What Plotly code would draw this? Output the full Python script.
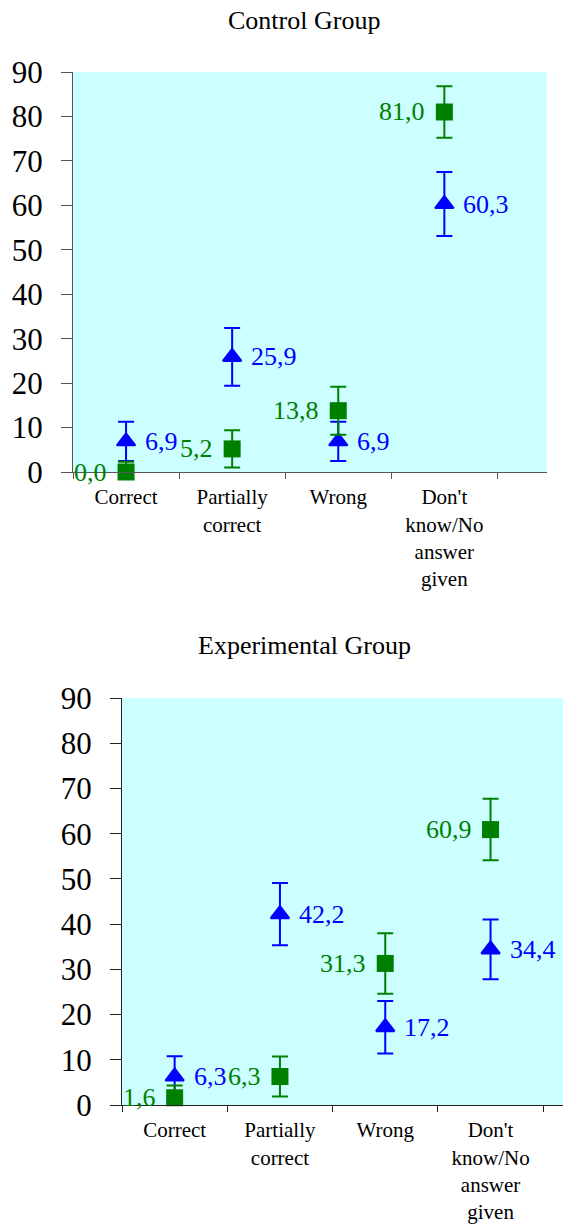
import plotly.graph_objects as go

categories = ["Correct", "Partially<br>correct", "Wrong", "Don't<br>know/No<br>answer<br>given"]

ctrl_square = [0.0, 5.2, 13.8, 81.0]
ctrl_square_err = [2.3, 4.2, 5.4, 5.8]
ctrl_triangle = [6.9, 25.9, 6.9, 60.3]
ctrl_triangle_err = [4.4, 6.5, 4.4, 7.2]

exp_square = [1.6, 6.3, 31.3, 60.9]
exp_square_err = [2.7, 4.4, 6.7, 6.8]
exp_triangle = [6.3, 42.2, 17.2, 34.4]
exp_triangle_err = [4.5, 6.9, 5.8, 6.6]

y_ticks = [0, 10, 20, 30, 40, 50, 60, 70, 80, 90]

W, H = 563, 1229
GREEN = "#008000"
BLUE = "#0000FF"
BG = "#CCFFFF"
FONT = "Liberation Serif"


def fmt(v):
    return f"{v:.1f}".replace(".", ",")


fig = go.Figure()
annotations = []


def add_group(xa, ya, sq, sq_err, tri, tri_err):
    fig.add_trace(go.Scatter(
        x=categories, y=tri, xaxis=xa, yaxis=ya, mode="markers",
        marker=dict(symbol="triangle-up", size=16, color=BLUE,
                    line=dict(color=BLUE, width=2)),
        error_y=dict(type="data", array=tri_err, color=BLUE, thickness=2, width=8),
        cliponaxis=False, showlegend=False))
    fig.add_trace(go.Scatter(
        x=categories, y=sq, xaxis=xa, yaxis=ya, mode="markers",
        marker=dict(symbol="square", size=17, color=GREEN),
        error_y=dict(type="data", array=sq_err, color=GREEN, thickness=2, width=8),
        cliponaxis=False, showlegend=False))
    for c, v in zip(categories, tri):
        annotations.append(dict(x=c, y=v, xref=xa, yref=ya, text=fmt(v),
                                showarrow=False, xanchor="left", yanchor="middle",
                                xshift=17, font=dict(family=FONT, size=26, color=BLUE)))
    for c, v in zip(categories, sq):
        annotations.append(dict(x=c, y=v, xref=xa, yref=ya, text=fmt(v),
                                showarrow=False, xanchor="right", yanchor="middle",
                                xshift=-17, font=dict(family=FONT, size=26, color=GREEN)))


add_group("x", "y", ctrl_square, ctrl_square_err, ctrl_triangle, ctrl_triangle_err)
add_group("x2", "y2", exp_square, exp_square_err, exp_triangle, exp_triangle_err)

n = len(categories)
boundaries = [i - 0.5 for i in range(n + 1)]


def px_x(p):
    return p / W


def px_y(p):
    return 1 - p / H


top_dom_x = [px_x(73), px_x(546.5)]
top_dom_y = [px_y(472), px_y(72)]
bot_dom_x = [px_x(122), 1.0]
bot_dom_y = [px_y(1105), px_y(698)]
top_xr = [-0.5, -0.5 + (546.5 - 73) / 106.1]
bot_xr = [-0.5, -0.5 + (563 - 122) / 105.3]


def xaxis_main(dom, rng, anchor, color):
    return dict(domain=dom, range=rng, type="category", anchor=anchor,
                categoryorder="array", categoryarray=categories,
                tickson="boundaries", ticks="outside", ticklen=6, tickwidth=1.2,
                tickcolor=color, showline=True, linecolor=color, linewidth=1.2,
                showgrid=False, zeroline=False, automargin=False,
                ticklabelstandoff=6,
                tickfont=dict(family=FONT, size=21, color="black"))


def yaxis_main(dom, anchor, color):
    return dict(domain=dom, range=[0, 90], anchor=anchor, tickmode="array",
                tickvals=y_ticks, ticks="outside", ticklen=11, tickwidth=1.2,
                tickcolor=color, showline=True, linecolor=color, linewidth=1.2,
                showgrid=False, zeroline=False, ticklabelstandoff=12,
                automargin=False,
                tickfont=dict(family=FONT, size=31, color="black"))


def xaxis_inner(rng, overlay, anchor, color):
    return dict(overlaying=overlay, anchor=anchor, range=rng, tickmode="array",
                tickvals=boundaries, ticks="inside", ticklen=6, tickwidth=1.2,
                tickcolor=color, showticklabels=False, showline=False,
                showgrid=False, zeroline=False, automargin=False)


def yaxis_inner(overlay, anchor, color):
    return dict(overlaying=overlay, anchor=anchor, range=[0, 90], tickmode="array",
                tickvals=y_ticks, ticks="inside", ticklen=11, tickwidth=1.2,
                tickcolor=color, showticklabels=False, showline=False,
                showgrid=False, zeroline=False, automargin=False)


TOPC = "#555555"
BOTC = "#222222"

annotations += [
    dict(text="Control Group", x=px_x(304), y=px_y(20), xref="paper", yref="paper",
         showarrow=False, yanchor="middle", xanchor="center",
         font=dict(family=FONT, size=26, color="black")),
    dict(text="Experimental Group", x=px_x(304), y=px_y(645), xref="paper", yref="paper",
         showarrow=False, yanchor="middle", xanchor="center",
         font=dict(family=FONT, size=26, color="black")),
]

fig.update_layout(
    width=W, height=H, margin=dict(l=0, r=0, t=0, b=0, autoexpand=False),
    paper_bgcolor="white", plot_bgcolor=BG,
    xaxis=xaxis_main(top_dom_x, top_xr, "y", TOPC),
    yaxis=yaxis_main(top_dom_y, "x", TOPC),
    xaxis2=xaxis_main(bot_dom_x, bot_xr, "y2", BOTC),
    yaxis2=yaxis_main(bot_dom_y, "x2", BOTC),
    xaxis3=xaxis_inner(top_xr, "x", "y", TOPC),
    yaxis3=yaxis_inner("y", "x", TOPC),
    xaxis4=xaxis_inner(bot_xr, "x2", "y2", BOTC),
    yaxis4=yaxis_inner("y2", "x2", BOTC),
    annotations=annotations,
)

fig.write_html("out.html")
